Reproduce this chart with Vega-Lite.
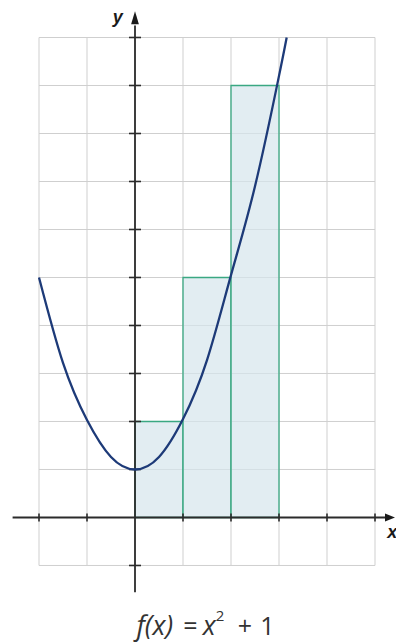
{
  "$schema": "https://vega.github.io/schema/vega-lite/v6.json",
  "width": 396,
  "height": 643,
  "autosize": {"type": "none"},
  "padding": 0,
  "background": "white",
  "config": {"view": {"stroke": null}},
  "datasets": {
    "rects": [
      {"x0": 0, "x1": 1, "b": 0, "h": 2},
      {"x0": 1, "x1": 2, "b": 0, "h": 5},
      {"x0": 2, "x1": 3, "b": 0, "h": 9}
    ],
    "vgrid": [
      {"v": -2, "lo": -1, "hi": 10}, {"v": -1, "lo": -1, "hi": 10}, {"v": 0, "lo": -1, "hi": 10}, {"v": 1, "lo": -1, "hi": 10},
      {"v": 2, "lo": -1, "hi": 10}, {"v": 3, "lo": -1, "hi": 10}, {"v": 4, "lo": -1, "hi": 10}, {"v": 5, "lo": -1, "hi": 10}
    ],
    "hgrid": [
      {"v": -1, "lo": -2, "hi": 5}, {"v": 0, "lo": -2, "hi": 5}, {"v": 1, "lo": -2, "hi": 5}, {"v": 2, "lo": -2, "hi": 5},
      {"v": 3, "lo": -2, "hi": 5}, {"v": 4, "lo": -2, "hi": 5}, {"v": 5, "lo": -2, "hi": 5}, {"v": 6, "lo": -2, "hi": 5},
      {"v": 7, "lo": -2, "hi": 5}, {"v": 8, "lo": -2, "hi": 5}, {"v": 9, "lo": -2, "hi": 5}, {"v": 10, "lo": -2, "hi": 5}
    ],
    "xaxis": [{"x0": -2.55, "x1": 5.25, "y": 0}],
    "yaxis": [{"x": 0, "y0": -1.56, "y1": 10.25}],
    "xticks": [{"v": -2, "y": 0}, {"v": -1, "y": 0}, {"v": 1, "y": 0}, {"v": 2, "y": 0}, {"v": 3, "y": 0}, {"v": 4, "y": 0}, {"v": 5, "y": 0}],
    "yticks": [{"v": -1, "x": 0}, {"v": 1, "x": 0}, {"v": 2, "x": 0}, {"v": 3, "x": 0}, {"v": 4, "x": 0}, {"v": 5, "x": 0}, {"v": 6, "x": 0}, {"v": 7, "x": 0}, {"v": 8, "x": 0}, {"v": 9, "x": 0}, {"v": 10, "x": 0}],
    "xarrow": [{"x": 5.3125, "y": 0}],
    "yarrow": [{"x": 0, "y": 10.41}],
    "curve": [
      {"x": -2, "y": 5},
      {"x": -1.5, "y": 3.22},
      {"x": -1, "y": 2.03},
      {"x": -0.5, "y": 1.26},
      {"x": 0, "y": 1},
      {"x": 0.5, "y": 1.26},
      {"x": 1, "y": 2.05},
      {"x": 1.5, "y": 3.28},
      {"x": 2, "y": 5.05},
      {"x": 2.5, "y": 6.9},
      {"x": 3, "y": 9.2},
      {"x": 3.16, "y": 10}
    ],
    "titleItalic": [{"t": "f(x)", "px": 0.03, "py": -2.448}, {"t": "x", "px": 1.41, "py": -2.448}],
    "titleRoman": [{"t": "=", "px": 1.156, "py": -2.448}, {"t": "+", "px": 2.29, "py": -2.448}, {"t": "1", "px": 2.76, "py": -2.448}],
    "titleSup": [{"t": "2", "px": 1.68, "py": -2.15}]
  },
  "layer": [
    {
      "data": {"name": "vgrid"},
      "mark": {"type": "rule", "color": "#cfcfcf", "strokeWidth": 1},
      "encoding": {
        "x": {"field": "v", "type": "quantitative", "scale": {"domain": [-2.8125, 5.4375], "nice": false, "zero": false}, "axis": null},
        "y": {"field": "lo", "type": "quantitative", "scale": {"domain": [-2.615, 10.781], "nice": false, "zero": false}, "axis": null},
        "y2": {"field": "hi"}
      }
    },
    {
      "data": {"name": "hgrid"},
      "mark": {"type": "rule", "color": "#cfcfcf", "strokeWidth": 1},
      "encoding": {
        "y": {"field": "v", "type": "quantitative", "scale": {"domain": [-2.615, 10.781], "nice": false, "zero": false}, "axis": null},
        "x": {"field": "lo", "type": "quantitative", "scale": {"domain": [-2.8125, 5.4375], "nice": false, "zero": false}, "axis": null},
        "x2": {"field": "hi"}
      }
    },
    {
      "data": {"name": "rects"},
      "mark": {"type": "rect", "fill": "#d6e6ec", "fillOpacity": 0.7, "stroke": "#3aa882", "strokeWidth": 1.3},
      "encoding": {
        "x": {"field": "x0", "type": "quantitative", "scale": {"domain": [-2.8125, 5.4375], "nice": false, "zero": false}, "axis": null},
        "x2": {"field": "x1"},
        "y": {"field": "b", "type": "quantitative", "scale": {"domain": [-2.615, 10.781], "nice": false, "zero": false}, "axis": null},
        "y2": {"field": "h"}
      }
    },
    {
      "data": {"name": "xaxis"},
      "mark": {"type": "rule", "color": "#2b2b2b", "strokeWidth": 1.8},
      "encoding": {
        "x": {"field": "x0", "type": "quantitative", "scale": {"domain": [-2.8125, 5.4375], "nice": false, "zero": false}, "axis": null},
        "x2": {"field": "x1"},
        "y": {"field": "y", "type": "quantitative", "scale": {"domain": [-2.615, 10.781], "nice": false, "zero": false}, "axis": null}
      }
    },
    {
      "data": {"name": "yaxis"},
      "mark": {"type": "rule", "color": "#2b2b2b", "strokeWidth": 1.8},
      "encoding": {
        "x": {"field": "x", "type": "quantitative", "scale": {"domain": [-2.8125, 5.4375], "nice": false, "zero": false}, "axis": null},
        "y": {"field": "y0", "type": "quantitative", "scale": {"domain": [-2.615, 10.781], "nice": false, "zero": false}, "axis": null},
        "y2": {"field": "y1"}
      }
    },
    {
      "data": {"name": "xticks"},
      "mark": {"type": "tick", "orient": "vertical", "color": "#2b2b2b", "size": 8, "thickness": 1.6, "opacity": 1},
      "encoding": {
        "x": {"field": "v", "type": "quantitative", "scale": {"domain": [-2.8125, 5.4375], "nice": false, "zero": false}, "axis": null},
        "y": {"field": "y", "type": "quantitative", "scale": {"domain": [-2.615, 10.781], "nice": false, "zero": false}, "axis": null}
      }
    },
    {
      "data": {"name": "yticks"},
      "mark": {"type": "tick", "orient": "horizontal", "color": "#2b2b2b", "size": 12, "thickness": 1.6, "opacity": 1},
      "encoding": {
        "y": {"field": "v", "type": "quantitative", "scale": {"domain": [-2.615, 10.781], "nice": false, "zero": false}, "axis": null},
        "x": {"field": "x", "type": "quantitative", "scale": {"domain": [-2.8125, 5.4375], "nice": false, "zero": false}, "axis": null}
      }
    },
    {
      "data": {"name": "xarrow"},
      "mark": {"type": "point", "shape": "M -1 -0.8 L 1 0 L -1 0.8 Z", "size": 100, "filled": true, "opacity": 1, "color": "#1a1a1a"},
      "encoding": {
        "x": {"field": "x", "type": "quantitative", "scale": {"domain": [-2.8125, 5.4375], "nice": false, "zero": false}, "axis": null},
        "y": {"field": "y", "type": "quantitative", "scale": {"domain": [-2.615, 10.781], "nice": false, "zero": false}, "axis": null}
      }
    },
    {
      "data": {"name": "yarrow"},
      "mark": {"type": "point", "shape": "M -0.6 1 L 0 -1 L 0.6 1 Z", "size": 169, "filled": true, "opacity": 1, "color": "#1a1a1a"},
      "encoding": {
        "x": {"field": "x", "type": "quantitative", "scale": {"domain": [-2.8125, 5.4375], "nice": false, "zero": false}, "axis": null},
        "y": {"field": "y", "type": "quantitative", "scale": {"domain": [-2.615, 10.781], "nice": false, "zero": false}, "axis": null}
      }
    },
    {
      "data": {"name": "curve"},
      "mark": {"type": "line", "interpolate": "natural", "color": "#1d3a78", "strokeWidth": 2.3},
      "encoding": {
        "x": {"field": "x", "type": "quantitative", "scale": {"domain": [-2.8125, 5.4375], "nice": false, "zero": false}, "axis": null},
        "y": {"field": "y", "type": "quantitative", "scale": {"domain": [-2.615, 10.781], "nice": false, "zero": false}, "axis": null}
      }
    },
    {
      "data": {"values": [{"t": "y", "px": -0.36, "py": 10.41}]},
      "mark": {"type": "text", "font": "Liberation Sans", "fontSize": 18, "fontWeight": "bold", "fontStyle": "italic", "color": "#1a1a1a", "align": "center", "baseline": "middle"},
      "encoding": {
        "text": {"field": "t"},
        "x": {"field": "px", "type": "quantitative", "scale": {"domain": [-2.8125, 5.4375], "nice": false, "zero": false}, "axis": null},
        "y": {"field": "py", "type": "quantitative", "scale": {"domain": [-2.615, 10.781], "nice": false, "zero": false}, "axis": null}
      }
    },
    {
      "data": {"values": [{"t": "x", "px": 5.36, "py": -0.33}]},
      "mark": {"type": "text", "font": "Liberation Sans", "fontSize": 18, "fontWeight": "bold", "fontStyle": "italic", "color": "#1a1a1a", "align": "center", "baseline": "middle"},
      "encoding": {
        "text": {"field": "t"},
        "x": {"field": "px", "type": "quantitative", "scale": {"domain": [-2.8125, 5.4375], "nice": false, "zero": false}, "axis": null},
        "y": {"field": "py", "type": "quantitative", "scale": {"domain": [-2.615, 10.781], "nice": false, "zero": false}, "axis": null}
      }
    },
    {
      "data": {"name": "titleItalic"},
      "mark": {"type": "text", "font": "Open Sans", "fontSize": 27, "fontStyle": "italic", "color": "#333333", "align": "left", "baseline": "alphabetic"},
      "encoding": {
        "text": {"field": "t"},
        "x": {"field": "px", "type": "quantitative", "scale": {"domain": [-2.8125, 5.4375], "nice": false, "zero": false}, "axis": null},
        "y": {"field": "py", "type": "quantitative", "scale": {"domain": [-2.615, 10.781], "nice": false, "zero": false}, "axis": null}
      }
    },
    {
      "data": {"name": "titleRoman"},
      "mark": {"type": "text", "font": "Open Sans", "fontSize": 25, "color": "#333333", "align": "center", "baseline": "alphabetic"},
      "encoding": {
        "text": {"field": "t"},
        "x": {"field": "px", "type": "quantitative", "scale": {"domain": [-2.8125, 5.4375], "nice": false, "zero": false}, "axis": null},
        "y": {"field": "py", "type": "quantitative", "scale": {"domain": [-2.615, 10.781], "nice": false, "zero": false}, "axis": null}
      }
    },
    {
      "data": {"name": "titleSup"},
      "mark": {"type": "text", "font": "Open Sans", "fontSize": 15, "color": "#333333", "align": "left", "baseline": "alphabetic"},
      "encoding": {
        "text": {"field": "t"},
        "x": {"field": "px", "type": "quantitative", "scale": {"domain": [-2.8125, 5.4375], "nice": false, "zero": false}, "axis": null},
        "y": {"field": "py", "type": "quantitative", "scale": {"domain": [-2.615, 10.781], "nice": false, "zero": false}, "axis": null}
      }
    }
  ]
}
